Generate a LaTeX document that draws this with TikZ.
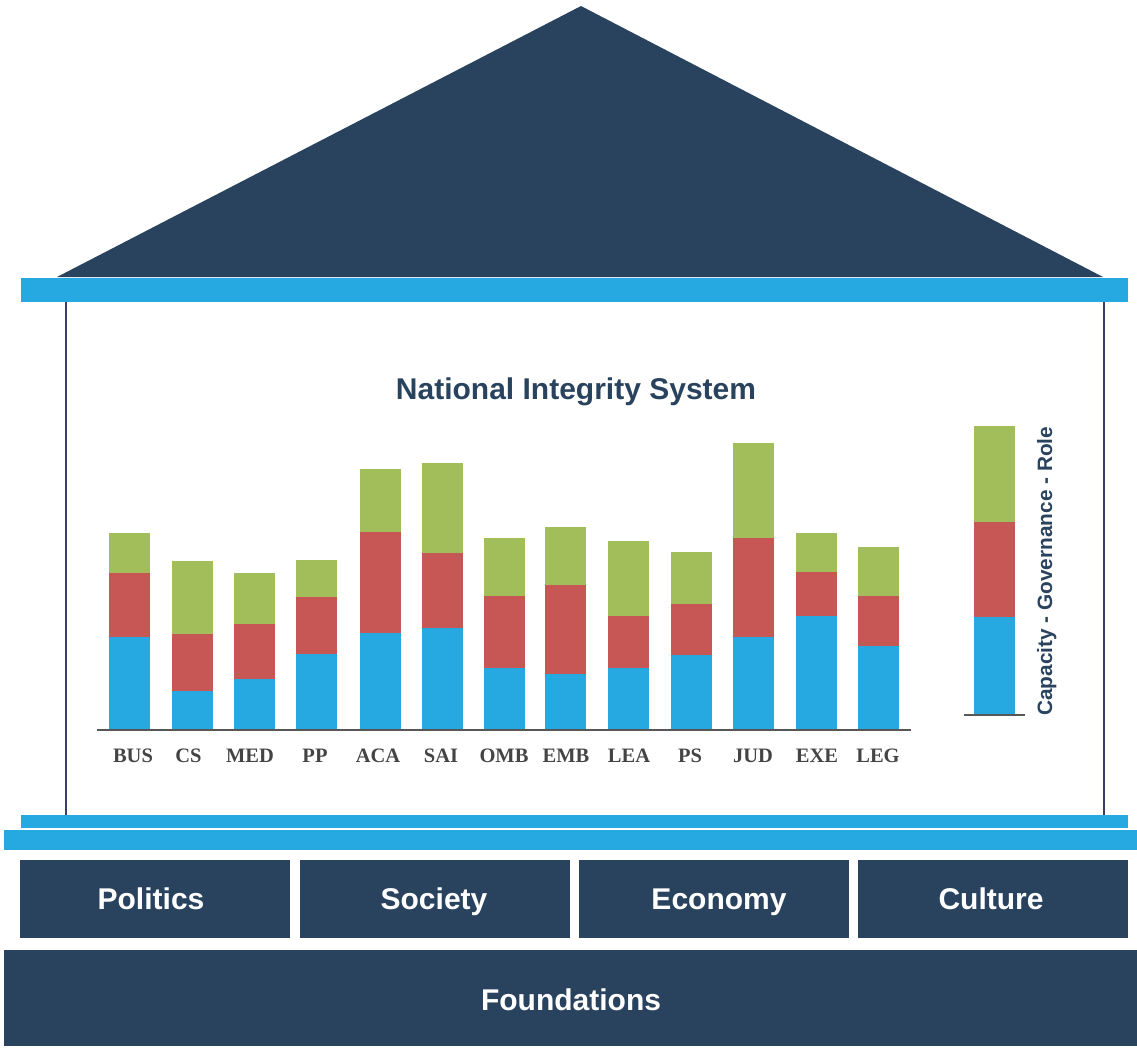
\documentclass[tikz,border=0pt]{standalone}
\usepackage{fontspec}
\setmainfont{Liberation Serif}
\newfontfamily\hv{Liberation Sans}
\definecolor{navy}{HTML}{29435F}
\definecolor{skyb}{HTML}{25A9E0}
\definecolor{redb}{HTML}{C75755}
\definecolor{greenb}{HTML}{A1BE5B}
\definecolor{colc}{HTML}{3D3D6B}
\definecolor{lbl}{HTML}{444444}
\begin{document}
\begin{tikzpicture}[x=1pt,y=-1pt,
  beam/.style={fill=skyb,draw=none},
  slab/.style={fill=navy,draw=none},
  slabtext/.style={text=white,inner sep=0pt,text height=21.5pt,text depth=0pt,font=\hv\bfseries\fontsize{30}{33}\selectfont},
  column/.style={draw=colc,line width=2pt},
  barlbl/.style={text=lbl,inner sep=0pt,text height=15pt,text depth=0pt,font=\bfseries\fontsize{20.5}{24}\selectfont}]
\useasboundingbox (0,0) rectangle (1137,1050);
% roof
\fill[navy] (57,277) coordinate (rl) -- (581,6) coordinate (apex) -- (1103,277) coordinate (rr) -- cycle;
% top beam
\fill[beam] (21,278) rectangle (1128,302);
% columns
\coordinate (c1t) at (66,302); \coordinate (c1b) at (66,815);
\coordinate (c2t) at (1104,302); \coordinate (c2b) at (1104,815);
\draw[column] (c1t) -- (c1b);
\draw[column] (c2t) -- (c2b);
% bottom beams
\fill[beam] (21,815) rectangle (1128,828);
\fill[beam] (4,830) rectangle (1137,850);
% slabs
\fill[slab] (20,860) rectangle (290,938);
\fill[slab] (300,860) rectangle (570,938);
\fill[slab] (579,860) rectangle (849,938);
\fill[slab] (858,860) rectangle (1128,938);
\fill[slab] (4,950) rectangle (1137,1046);
\node[slabtext] (politics) at (151,899) {Politics};
\node[slabtext] (society) at (434,899) {Society};
\node[slabtext] (economy) at (719,899) {Economy};
\node[slabtext] (culture) at (991,899) {Culture};
\node[slabtext] (found) at (571,1000) {Foundations};
% title
\node[text=navy,inner sep=0pt,text height=21pt,text depth=0pt,font=\hv\bfseries\fontsize{30}{33}\selectfont] (title) at (576,389) {National Integrity System};
% bars
\foreach \lab/\x/\b/\r/\g/\lx in {BUS/109/637/573/533/133, CS/172/691/634/561/188.5, MED/234/679/624/573/250, PP/296/654/597/560/315, ACA/360/633/532/469/378, SAI/422/628/553/463/441, OMB/484/668/596/538/504, EMB/545/674/585/527/566, LEA/608/668/616/541/629, PS/671/655/604/552/690, JUD/733/637/538/443/753, EXE/796/616/572/533/817, LEG/858/646/596/547/878}{
  \fill[skyb] (\x,730) rectangle (\x+41,\b);
  \fill[redb] (\x,\b) rectangle (\x+41,\r);
  \fill[greenb] (\x,\r) rectangle (\x+41,\g);
  \node[barlbl] (l\lab) at (\lx,754.5) {\lab};
}
\coordinate (ax1) at (97,730); \coordinate (ax2) at (911,730);
\draw[draw=lbl!90,line width=1.6pt] (ax1) -- (ax2);
% legend
\fill[skyb] (974,715) rectangle (1015,617);
\fill[redb] (974,617) rectangle (1015,522);
\fill[greenb] (974,522) rectangle (1015,426);
\coordinate (lg1) at (964,715); \coordinate (lg2) at (1025,715);
\draw[draw=lbl!90,line width=1.6pt] (lg1) -- (lg2);
\node[text=navy,font=\hv\bfseries\fontsize{20.8}{24}\selectfont,rotate=90,anchor=base west,inner sep=0pt] (legtext) at (1052,716) {Capacity - Governance - Role};
\end{tikzpicture}
\end{document}
